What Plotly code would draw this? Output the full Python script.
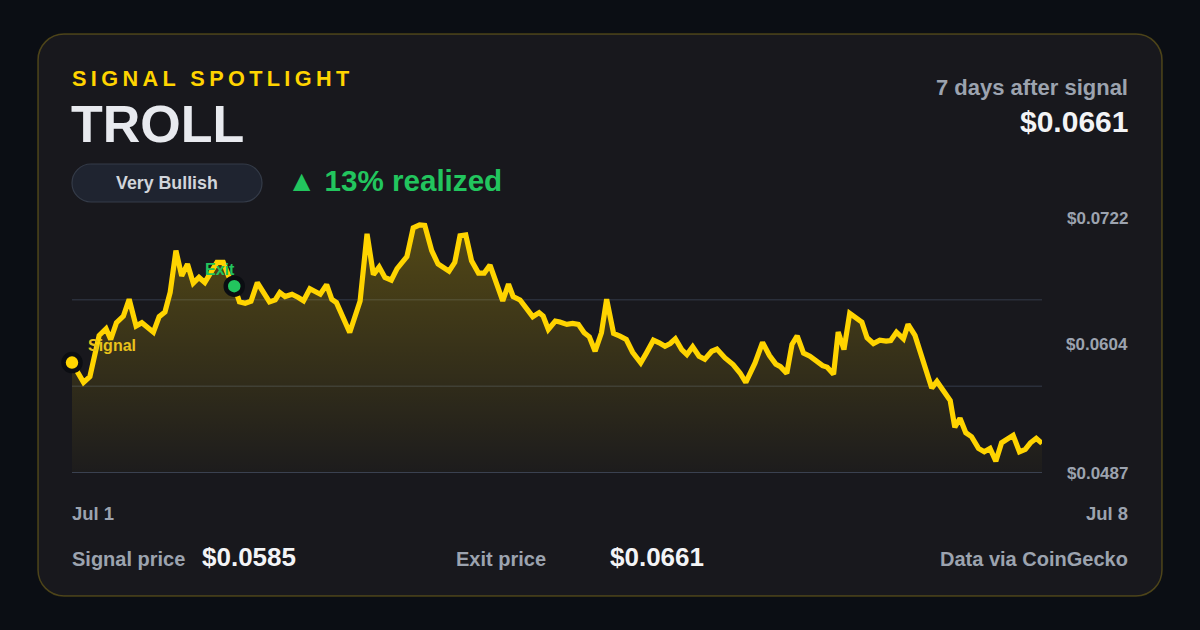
import plotly.graph_objects as go
import pandas as pd

# ---------------- data ----------------
hours = [
    0, 2.0, 3.1, 4.7, 5.9, 6.7, 7.7, 8.9, 9.9, 11.1,
    12.1, 14.1, 15.1, 16.1, 17.0, 18.0, 19.0, 20.0, 21.0, 22.0,
    23.0, 24.2, 25.1, 26.2, 27.1, 28.1, 29.0, 30.0, 31.0, 32.1,
    33.3, 34.2, 35.2, 36.0, 36.9, 38.1, 39.2, 40.1, 41.2, 43.0,
    44.1, 45.0, 45.8, 47.0, 48.1, 49.9, 51.1, 52.2, 53.2, 54.2,
    55.3, 56.3, 58.0, 59.1, 60.2, 61.1, 62.3, 63.4, 64.3, 65.3,
    66.3, 67.2, 68.2, 69.2, 70.4, 71.4, 72.4, 74.6, 75.6, 76.4,
    77.6, 78.8, 79.8, 80.9, 81.6, 82.5, 83.7, 84.5, 85.7, 86.7,
    87.7, 88.7, 89.6, 90.6, 91.7, 92.6, 93.8, 94.9, 96.0, 97.1,
    98.5, 99.5, 100.7, 101.7, 102.7, 103.6, 104.5, 105.6, 106.5, 107.5,
    108.6, 109.6, 110.8, 111.7, 113.1, 114.5, 115.7, 116.7, 118.3, 119.6,
    120.8, 121.9, 122.7, 123.8, 124.7, 125.6, 126.7, 127.8, 128.9, 130.0,
    130.8, 131.9, 132.7, 133.7, 134.7, 135.8, 136.8, 137.7, 138.8, 139.9,
    141.0, 141.8, 142.8, 144.0, 144.8, 146.0, 146.9, 148.0, 148.9, 149.8,
    150.9, 152.1, 152.9, 153.8, 154.8, 155.8, 157.0, 158.0, 159.0, 160.0,
    161.0, 161.9, 163.0, 164.1, 165.1, 166.0, 167.0, 168.0,
]

prices = [
    0.0585, 0.05653, 0.0571, 0.0612, 0.06187, 0.0608, 0.06247, 0.06313, 0.0648, 0.06213,
    0.06247, 0.06153, 0.06307, 0.06353, 0.06547, 0.06963, 0.06713, 0.0683, 0.0664, 0.06697,
    0.06647, 0.06763, 0.06847, 0.06847, 0.06713, 0.0661, 0.06455, 0.0644, 0.0646, 0.06645,
    0.06547, 0.06453, 0.06473, 0.06547, 0.06507, 0.0653, 0.06497, 0.06465, 0.06585, 0.0653,
    0.06625, 0.0648, 0.06447, 0.0628, 0.0615, 0.06463, 0.0713, 0.06725, 0.068, 0.06697,
    0.0667, 0.06785, 0.06903, 0.0719, 0.0722, 0.07215, 0.06963, 0.0683, 0.06803, 0.0676,
    0.06847, 0.0711, 0.0712, 0.06863, 0.0674, 0.0674, 0.0682, 0.06463, 0.0663, 0.06507,
    0.06473, 0.0638, 0.06307, 0.06347, 0.06313, 0.0618, 0.06263, 0.06253, 0.0623, 0.0624,
    0.0623, 0.06147, 0.06107, 0.05963, 0.06147, 0.0648, 0.0614, 0.06113, 0.0608, 0.05953,
    0.05847, 0.05947, 0.06073, 0.06047, 0.06013, 0.0604, 0.06087, 0.0598, 0.0593, 0.06007,
    0.05913, 0.05883, 0.05963, 0.05985, 0.05897, 0.0583, 0.05747, 0.05653, 0.05847, 0.0605,
    0.0592, 0.05835, 0.0581, 0.05743, 0.0603, 0.06115, 0.05945, 0.05913, 0.05863, 0.0582,
    0.05805, 0.05735, 0.06155, 0.0598, 0.0634, 0.06297, 0.06253, 0.06097, 0.0604, 0.06073,
    0.06063, 0.0607, 0.06153, 0.06087, 0.0623, 0.0612, 0.05947, 0.0573, 0.05597, 0.05663,
    0.05563, 0.05473, 0.05207, 0.05297, 0.05153, 0.05113, 0.04997, 0.04963, 0.04997, 0.0487,
    0.05053, 0.0508, 0.05127, 0.04963, 0.04987, 0.05053, 0.05097, 0.05047,
]

signal_index = 0
exit_index = 25
y_tick_labels = ["$0.0722", "$0.0604", "$0.0487"]
x_labels = ["Jul 1", "Jul 8"]

title_kicker = "SIGNAL SPOTLIGHT"
token = "TROLL"
badge_text = "Very Bullish"
realized_text = "▲ 13% realized"
after_label = "7 days after signal"
after_value = "$0.0661"
signal_price_label = "Signal price"
signal_price_value = "$0.0585"
exit_price_label = "Exit price"
exit_price_value = "$0.0661"
source_text = "Data via CoinGecko"

# ---------------- styling ----------------
W, H = 1200, 630
PL, PR, PT, PB = 72, 1042, 213, 473   # plot area in pixels
FONT = "Liberation Sans, Arial, Helvetica, sans-serif"
BG = "#0b0e14"
CARD = "#18181d"
YELLOW = "#FFD400"
GREEN = "#22c55e"
GRAY = "#9ca3af"
WHITE = "#f3f4f6"


def px(x):
    return (x - PL) / (PR - PL)


def py(y):
    return (PB - y) / (PB - PT)


def rr_path(x0, y0, x1, y1, r):
    k = 0.5523 * r
    pts = []
    pts.append(f"M {px(x0 + r)},{py(y0)}")
    pts.append(f"L {px(x1 - r)},{py(y0)}")
    pts.append(f"C {px(x1 - r + k)},{py(y0)} {px(x1)},{py(y0 + r - k)} {px(x1)},{py(y0 + r)}")
    pts.append(f"L {px(x1)},{py(y1 - r)}")
    pts.append(f"C {px(x1)},{py(y1 - r + k)} {px(x1 - r + k)},{py(y1)} {px(x1 - r)},{py(y1)}")
    pts.append(f"L {px(x0 + r)},{py(y1)}")
    pts.append(f"C {px(x0 + r - k)},{py(y1)} {px(x0)},{py(y1 - r + k)} {px(x0)},{py(y1 - r)}")
    pts.append(f"L {px(x0)},{py(y0 + r)}")
    pts.append(f"C {px(x0)},{py(y0 + r - k)} {px(x0 + r - k)},{py(y0)} {px(x0 + r)},{py(y0)}")
    pts.append("Z")
    return " ".join(pts)


start = pd.Timestamp("2025-07-01 00:00")
times = [start + pd.Timedelta(hours=h) for h in hours]

pmin, pmax = min(prices), max(prices)
pad = (pmax - pmin) * 0.05
lo, hi = pmin - pad, pmax + pad
mid = (lo + hi) / 2
span = hi - lo

fig = go.Figure()

# baseline for the gradient fill
fig.add_trace(go.Scatter(
    x=times, y=[lo] * len(times), mode="lines",
    line=dict(width=0, color="rgba(0,0,0,0)"),
    hoverinfo="skip", showlegend=False,
))

fig.add_trace(go.Scatter(
    x=times, y=prices, mode="lines",
    line=dict(color=YELLOW, width=5.2),
    fill="tonexty",
    fillgradient=dict(
        type="vertical", start=lo, stop=hi,
        colorscale=[[0, "rgba(255,212,0,0.02)"], [1, "rgba(255,212,0,0.27)"]],
    ),
    hoverinfo="skip", showlegend=False,
))

# signal & exit markers
fig.add_trace(go.Scatter(
    x=[times[signal_index]], y=[prices[signal_index]], mode="markers",
    marker=dict(size=17, color=YELLOW, line=dict(color="#0b0d12", width=4.5)),
    hoverinfo="skip", showlegend=False, cliponaxis=False,
))
fig.add_trace(go.Scatter(
    x=[times[exit_index]], y=[prices[exit_index]], mode="markers",
    marker=dict(size=17, color=GREEN, line=dict(color="#0b0d12", width=4.5)),
    hoverinfo="skip", showlegend=False, cliponaxis=False,
))

shapes = [
    # card
    dict(type="path", xref="paper", yref="paper", layer="below",
         path=rr_path(38, 34, 1162, 596, 26),
         fillcolor=CARD, line=dict(color="rgba(190,160,30,0.35)", width=1.5)),
    # badge pill
    dict(type="path", xref="paper", yref="paper", layer="below",
         path=rr_path(72, 164, 262, 202, 19),
         fillcolor="#1f2430", line=dict(color="#343b48", width=1.2)),
    # gridlines at thirds
    dict(type="line", xref="paper", yref="y", x0=0, x1=1,
         y0=lo + span / 3, y1=lo + span / 3, layer="below",
         line=dict(color="#2a2f3b", width=1.5)),
    dict(type="line", xref="paper", yref="y", x0=0, x1=1,
         y0=lo + 2 * span / 3, y1=lo + 2 * span / 3, layer="below",
         line=dict(color="#2a2f3b", width=1.5)),
    # baseline
    dict(type="line", xref="paper", yref="y", x0=0, x1=1, y0=lo, y1=lo,
         layer="above", line=dict(color="#3a4150", width=2)),
]


def ann(x, y, text, size, color, xanchor="left", weight=700):
    return dict(xref="paper", yref="paper", x=px(x), y=py(y), text=text,
                showarrow=False, xanchor=xanchor, yanchor="middle",
                font=dict(family=FONT, size=size, color=color, weight=weight))


kicker = "\u2009".join(list(title_kicker))

annotations = [
    ann(70, 78, kicker, 21.7, YELLOW),
    ann(69, 124, token, 52, "#e8eaef"),
    ann(167, 183, badge_text, 17.8, "#d1d5db", xanchor="center"),
    ann(285, 180, realized_text, 29.6, GREEN),
    ann(1130, 88, after_label, 22, GRAY, xanchor="right"),
    ann(1130, 122, after_value, 30, WHITE, xanchor="right"),
    ann(70, 513, x_labels[0], 18.5, GRAY),
    ann(1130, 513, x_labels[1], 18.5, GRAY, xanchor="right"),
    ann(70, 559, signal_price_label, 20, GRAY),
    ann(200, 557, signal_price_value, 26, WHITE),
    ann(454, 559, exit_price_label, 20, GRAY),
    ann(608, 557, exit_price_value, 26, WHITE),
    ann(1130, 559, source_text, 20, GRAY, xanchor="right"),
]

# y labels: top / middle / bottom of value range
for val, lab, shift in zip([hi, mid, lo], y_tick_labels, [-5, -1, 0]):
    annotations.append(dict(
        xref="paper", yref="y", x=px(1130), y=val, text=lab, showarrow=False,
        xanchor="right", yanchor="middle", yshift=shift,
        font=dict(family=FONT, size=17, color=GRAY, weight=700)))

# point labels
annotations.append(dict(
    xref="x", yref="y", x=times[signal_index], y=prices[signal_index],
    text="Signal", showarrow=False, xanchor="left", yanchor="middle",
    xshift=14, yshift=17,
    font=dict(family=FONT, size=16, color="#e9c21b", weight=700)))
annotations.append(dict(
    xref="x", yref="y", x=times[exit_index], y=prices[exit_index],
    text="Exit", showarrow=False, xanchor="center", yanchor="middle",
    xshift=-14, yshift=17,
    font=dict(family=FONT, size=16, color=GREEN, weight=700)))

fig.update_layout(
    width=W, height=H,
    margin=dict(l=PL, r=W - PR, t=PT, b=H - PB, pad=0),
    paper_bgcolor=BG, plot_bgcolor="rgba(0,0,0,0)",
    xaxis=dict(visible=False, range=[times[0], times[-1]]),
    yaxis=dict(range=[lo, hi], showgrid=False, zeroline=False,
               showticklabels=False, showline=False, ticks=""),
    shapes=shapes, annotations=annotations,
    showlegend=False,
)

fig.write_html("out.html", config={"displayModeBar": False})
